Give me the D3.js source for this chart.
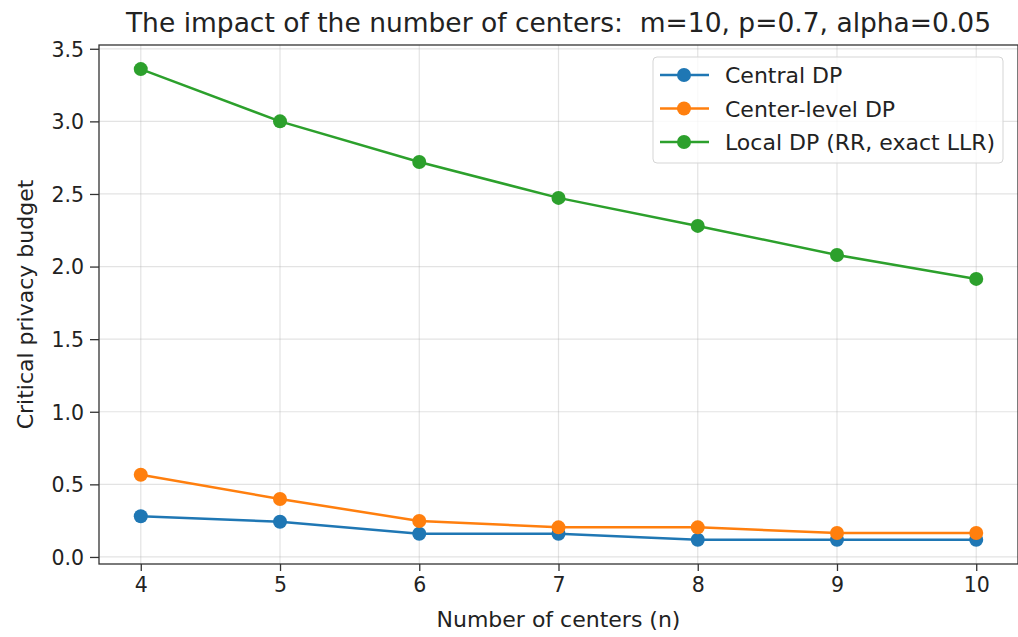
<!DOCTYPE html>
<html><head><meta charset="utf-8">
<script src="https://cdn.jsdelivr.net/npm/d3@7/dist/d3.min.js"></script>
<style>body{margin:0;background:#fff;} text{font-family:"DejaVu Sans",sans-serif;fill:#222;white-space:pre;}</style>
</head><body>
<svg id="c" width="1018" height="637"></svg>
<script>
const centers = [4, 5, 6, 7, 8, 9, 10];
const centralDP = [0.28, 0.243, 0.16, 0.16, 0.119, 0.119, 0.119];
const centerLevelDP = [0.566, 0.399, 0.248, 0.204, 0.204, 0.165, 0.165];
const localDP = [3.36, 3.0, 2.72, 2.473, 2.28, 2.08, 1.915];
const seriesNames = ["Central DP", "Center-level DP", "Local DP (RR, exact LLR)"];
const seriesColors = ["#1f77b4", "#ff7f0e", "#2ca02c"];
const yTicks = [0.0, 0.5, 1.0, 1.5, 2.0, 2.5, 3.0, 3.5];
const titleText = "The impact of the number of centers:  m=10, p=0.7, alpha=0.05";
const xLabel = "Number of centers (n)";
const yLabel = "Critical privacy budget";

const series = [centralDP, centerLevelDP, localDP];
const L = 99, R = 1018, T = 45, B = 564;
const svg = d3.select("#c");
const x = d3.scaleLinear().domain([3.7, 10.3]).range([L, R]);
const y = d3.scaleLinear().domain([-0.0485, 3.526]).range([B, T]);

// grid
const g = svg.append("g");
g.selectAll(".gx").data(centers).enter().append("line")
  .attr("x1", d => x(d)).attr("x2", d => x(d)).attr("y1", T).attr("y2", B)
  .attr("stroke", "#b0b0b0").attr("stroke-opacity", 0.35).attr("stroke-width", 1.2);
g.selectAll(".gy").data(yTicks).enter().append("line")
  .attr("y1", d => y(d)).attr("y2", d => y(d)).attr("x1", L).attr("x2", R)
  .attr("stroke", "#b0b0b0").attr("stroke-opacity", 0.35).attr("stroke-width", 1.2);

// axes
const xAxis = d3.axisBottom(x).tickValues(centers).tickFormat(d3.format("d")).tickSize(7).tickPadding(6);
const yAxis = d3.axisLeft(y).tickValues(yTicks).tickFormat(d3.format(".1f")).tickSize(9).tickPadding(6);
const gx = svg.append("g").attr("transform", `translate(0,${B})`).call(xAxis);
const gy = svg.append("g").attr("transform", `translate(${L},0)`).call(yAxis);
[gx, gy].forEach(a => {
  a.select(".domain").remove();
  a.selectAll("line").attr("stroke", "#333").attr("stroke-width", 1.3);
  a.selectAll("text").style("font-size", "20.5px").style("fill", "#222").attr("font-family", null);
});
gy.selectAll("text").attr("dy", "0.36em");
// frame
svg.append("rect").attr("x", L).attr("y", T).attr("width", R - L).attr("height", B - T)
  .attr("fill", "none").attr("stroke", "#333").attr("stroke-width", 1.3);

// lines
const line = d3.line().x((d, i) => x(centers[i])).y(d => y(d));
series.forEach((s, k) => {
  svg.append("path").datum(s).attr("d", line).attr("fill", "none")
    .attr("stroke", seriesColors[k]).attr("stroke-width", 2.5);
  svg.selectAll(".m" + k).data(s).enter().append("circle")
    .attr("cx", (d, i) => x(centers[i])).attr("cy", d => y(d)).attr("r", 7)
    .attr("fill", seriesColors[k]);
});

// title & labels
svg.append("text").attr("x", (L + R) / 2).attr("y", 32).attr("text-anchor", "middle")
  .style("font-size", "26.5px").text(titleText);
svg.append("text").attr("x", (L + R) / 2).attr("y", 627).attr("text-anchor", "middle")
  .style("font-size", "22px").text(xLabel);
svg.append("text").attr("transform", `translate(33,${(T + B) / 2}) rotate(-90)`).attr("text-anchor", "middle")
  .style("font-size", "22px").text(yLabel);

// legend
const lg = svg.append("g");
lg.append("rect").attr("x", 653).attr("y", 57).attr("width", 350).attr("height", 106).attr("rx", 4)
  .attr("fill", "#fff").attr("fill-opacity", 0.8).attr("stroke", "#d5d5d5").attr("stroke-width", 1);
seriesNames.forEach((n, k) => {
  const yy = 75 + k * 33.5;
  lg.append("line").attr("x1", 660).attr("x2", 709).attr("y1", yy).attr("y2", yy)
    .attr("stroke", seriesColors[k]).attr("stroke-width", 2.5);
  lg.append("circle").attr("cx", 684).attr("cy", yy).attr("r", 7).attr("fill", seriesColors[k]);
  lg.append("text").attr("x", 725).attr("y", yy + 8).style("font-size", "22px").text(n);
});
</script>
</body></html>
